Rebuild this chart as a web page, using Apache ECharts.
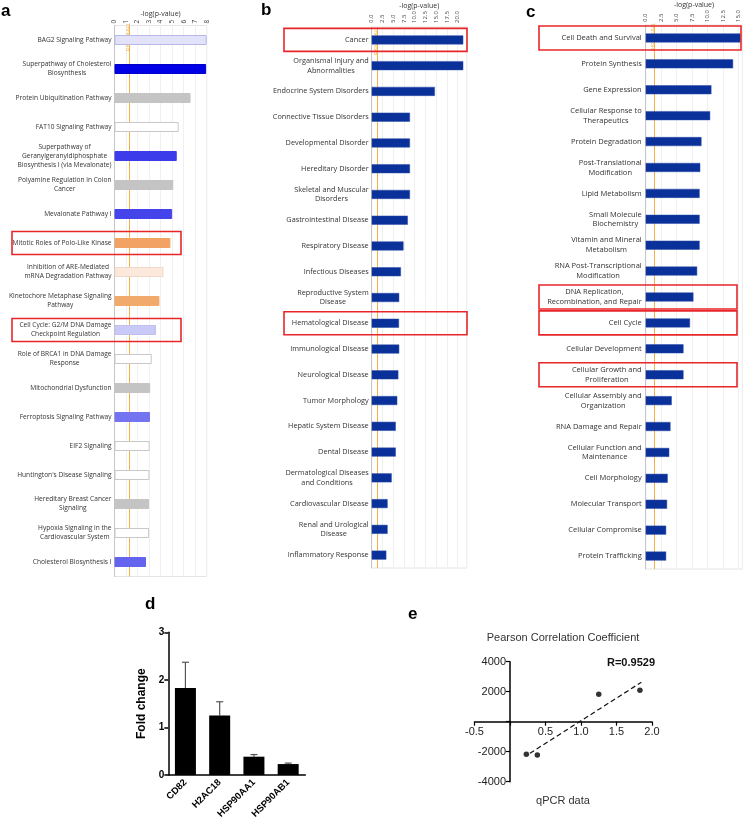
<!DOCTYPE html>
<html><head><meta charset="utf-8">
<script src="https://cdn.jsdelivr.net/npm/echarts@6/dist/echarts.min.js"></script>
<style>html,body{margin:0;padding:0;background:#fff}#c{width:746px;height:822px}</style>
</head><body><div id="c"></div>
<script>
// ---------- DATA ----------
const threshold = 1.3;

const aCats = ["BAG2 Signaling Pathway","Superpathway of Cholesterol\nBiosynthesis","Protein Ubiquitination Pathway","FAT10 Signaling Pathway","Superpathway of\nGeranylgeranyldiphosphate\nBiosynthesis I (via Mevalonate)","Polyamine Regulation in Colon\nCancer","Mevalonate Pathway I","Mitotic Roles of Polo-Like Kinase","Inhibition of ARE-Mediated\nmRNA Degradation Pathway","Kinetochore Metaphase Signaling\nPathway","Cell Cycle: G2/M DNA Damage\nCheckpoint Regulation","Role of BRCA1 in DNA Damage\nResponse","Mitochondrial Dysfunction","Ferroptosis Signaling Pathway","EIF2 Signaling","Huntington's Disease Signaling","Hereditary Breast Cancer\nSignaling","Hypoxia Signaling in the\nCardiovascular System","Cholesterol Biosynthesis I"];
const aVals = [8.0,7.95,6.6,5.57,5.4,5.1,5.0,4.85,4.24,3.9,3.6,3.23,3.1,3.08,3.05,3.03,3.0,3.0,2.73];
const aHighlight = [7,10];

const bCats = ["Cancer","Organismal Injury and\nAbnormalities","Endocrine System Disorders","Connective Tissue Disorders","Developmental Disorder","Hereditary Disorder","Skeletal and Muscular\nDisorders","Gastrointestinal Disease","Respiratory Disease","Infectious Diseases","Reproductive System\nDisease","Hematological Disease","Immunological Disease","Neurological Disease","Tumor Morphology","Hepatic System Disease","Dental Disease","Dermatological Diseases\nand Conditions","Cardiovascular Disease","Renal and Urological\nDisease","Inflammatory Response"];
const bVals = [21.3,21.3,14.7,8.9,8.9,8.9,8.9,8.4,7.4,6.8,6.4,6.35,6.4,6.2,5.95,5.6,5.6,4.65,3.7,3.7,3.4];
const bHighlight = [0,11];

const cCats = ["Cell Death and Survival","Protein Synthesis","Gene Expression","Cellular Response to\nTherapeutics","Protein Degradation","Post-Translational\nModification","Lipid Metabolism","Small Molecule\nBiochemistry","Vitamin and Mineral\nMetabolism","RNA Post-Transcriptional\nModification","DNA Replication,\nRecombination, and Repair","Cell Cycle","Cellular Development","Cellular Growth and\nProliferation","Cellular Assembly and\nOrganization","RNA Damage and Repair","Cellular Function and\nMaintenance","Cell Morphology","Molecular Transport","Cellular Compromise","Protein Trafficking"];
const cVals = [15.3,14.1,10.6,10.4,9.0,8.8,8.7,8.7,8.7,8.3,7.7,7.15,6.1,6.1,4.2,4.0,3.8,3.55,3.45,3.3,3.3];
const cHighlight = [0,10,11,13];

const dCats = ["CD82","H2AC18","HSP90AA1","HSP90AB1"];
const dVals = [1.83,1.25,0.385,0.23];
const dErr  = [0.54,0.29,0.045,0.02];

const ePoints = [[0.23,-2170],[0.385,-2220],[1.25,1830],[1.83,2090]];
const eFit = [[0.28,-2110],[1.85,2630]];
const eR = "R=0.9529";

// ---------- STYLES ----------
const aColors = ["#e2e2fa","#0000e6","#c4c4c4","#ffffff","#3c3cea","#c4c4c4","#4444ea","#f2a262","#fde9dc","#f2aa6c","#c9c9f8","#ffffff","#c4c4c4","#7474f0","#ffffff","#ffffff","#c4c4c4","#ffffff","#6464ee"];
const aBorder = ["#b8b8e8","#0000c8","#c4c4c4","#c8c8c8","#3c3cea","#c4c4c4","#4444ea","#f2a262","#f0d8c8","#f2aa6c","#c0c0f0","#c8c8c8","#c4c4c4","#7474f0","#c8c8c8","#c8c8c8","#c4c4c4","#c8c8c8","#6464ee"];
const ipaBlue = "#0a3199";
const orange = "#f5b04a";
const red = "#e8262a";
const ipaFont = "Open Sans";
const arial = "Liberation Sans";

const chart = echarts.init(document.getElementById('c'), null, {renderer:'canvas'});

function richLab(v){ return v.split('\n').map(s=>'{c|'+s+'}').join('\n'); }
function ipaY(gi, cats, fs, margin){
  return {gridIndex:gi, type:'category', inverse:true, data:cats,
    axisTick:{show:false}, axisLine:{show:true, lineStyle:{color:'#c6c6c6', width:1}},
    axisLabel:{margin:margin, formatter:richLab, interval:0,
      rich:{c:{align:'center', fontSize:fs, fontFamily:ipaFont, color:'#333', lineHeight:fs+2.3}}}};
}
function ipaX(gi, min, max, interval, fmt, margin, fs){
  return {gridIndex:gi, type:'value', position:'top', min:min, max:max, interval:interval,
    axisLine:{show:false}, axisTick:{show:false},
    axisLabel:{rotate:-90, margin:margin, fontSize:fs, fontFamily:ipaFont, color:'#444', formatter:fmt},
    splitLine:{show:true, lineStyle:{color:'#f0f0f0', width:1}}};
}
function thrSeries(xi){
  return {type:'scatter', xAxisIndex:xi, yAxisIndex:xi, data:[], z:1, silent:true,
    markLine:{silent:true, z:1, symbol:'none', lineStyle:{color:orange, width:1, type:'solid'},
      label:{show:false}, data:[{xAxis:threshold}]}};
}

const option = {
  animation:false,
  backgroundColor:'#fff',
  grid:[
    {left:114.5, top:25.5, width:92.2, height:551, containLabel:false, outerBoundsMode:'none', show:true, borderColor:'#e4e4e4', borderWidth:1},
    {left:371.7, top:27, width:95, height:541, containLabel:false, outerBoundsMode:'none', show:true, borderColor:'#e4e4e4', borderWidth:1},
    {left:645.7, top:25, width:96.7, height:544, containLabel:false, outerBoundsMode:'none', show:true, borderColor:'#e4e4e4', borderWidth:1},
    {left:168.3, top:632.3, width:137, height:142.7, containLabel:false, outerBoundsMode:'none'},
    {left:474.5, top:661.7, width:177.5, height:120, containLabel:false, outerBoundsMode:'none'}
  ],
  xAxis:[
    ipaX(0, 0, 8, 1, v=>String(v), 2, 6.5),
    ipaX(1, 0, 22.1, 2.5, v=> v>21 ? '' : v.toFixed(1), 4, 6),
    ipaX(2, 0, 15.6, 2.5, v=> v>15.1 ? '' : v.toFixed(1), 3, 6),
    {gridIndex:3, type:'category', data:dCats,
      axisLine:{lineStyle:{color:'#000', width:1.5}}, axisTick:{show:false},
      axisLabel:{rotate:45, interval:0, margin:6, fontSize:9.5, fontWeight:'bold', fontFamily:arial, color:'#000'}},
    {gridIndex:4, type:'value', min:-0.5, max:2, interval:0.5, position:'bottom', offset:-60,
      axisLine:{onZero:false, lineStyle:{color:'#000', width:1.5}},
      axisTick:{show:true, length:4, lineStyle:{color:'#000', width:1.2}},
      splitLine:{show:false},
      axisLabel:{margin:5, fontSize:11, fontFamily:arial, color:'#222', formatter:v=> v===0 ? '' : v.toFixed(1)}}
  ],
  yAxis:[
    ipaY(0, aCats, 6.6, 3),
    ipaY(1, bCats, 7.3, 3),
    ipaY(2, cCats, 7.5, 4),
    {gridIndex:3, type:'value', min:0, max:3, interval:1,
      name:'Fold change', nameLocation:'middle', nameGap:21, nameMoveOverlap:false,
      nameTextStyle:{fontSize:12, fontWeight:'bold', fontFamily:arial, color:'#000'},
      axisLine:{show:true, lineStyle:{color:'#000', width:1.5}},
      axisTick:{show:true, length:4, lineStyle:{color:'#000', width:1.5}},
      splitLine:{show:false},
      axisLabel:{margin:4, fontSize:10, fontWeight:'bold', fontFamily:arial, color:'#000'}},
    {gridIndex:4, type:'value', min:-4000, max:4000, interval:2000, position:'left', offset:-35.5,
      axisLine:{show:true, onZero:false, lineStyle:{color:'#000', width:1.5}},
      axisTick:{show:true, length:4, lineStyle:{color:'#000', width:1.2}},
      splitLine:{show:false},
      axisLabel:{margin:4, fontSize:11, fontFamily:arial, color:'#222', formatter:v=> v===0 ? '' : String(v)}}
  ],
  series:[
    thrSeries(0), thrSeries(1), thrSeries(2),
    {type:'bar', xAxisIndex:0, yAxisIndex:0, barWidth:10, z:3,
      data:aVals.map((v,i)=>({value:v, itemStyle:{color:aColors[i], borderColor:aBorder[i], borderWidth:1}}))},
    {type:'bar', xAxisIndex:1, yAxisIndex:1, barWidth:9, data:bVals, z:3,
      itemStyle:{color:ipaBlue, borderColor:'#2a4aa8', borderWidth:0.5}},
    {type:'bar', xAxisIndex:2, yAxisIndex:2, barWidth:9, data:cVals, z:3,
      itemStyle:{color:ipaBlue, borderColor:'#2a4aa8', borderWidth:0.5}},
    {type:'bar', xAxisIndex:3, yAxisIndex:3, barWidth:21, data:dVals, itemStyle:{color:'#000'}},
    {type:'custom', xAxisIndex:3, yAxisIndex:3, z:1,
      data:dCats.map((c,i)=>[i, dVals[i], dErr[i]]),
      encode:{x:0, y:1},
      renderItem:function(params, api){
        const x=api.value(0), v=api.value(1), e=api.value(2);
        const p0=api.coord([x,v]), p1=api.coord([x,v+e]);
        const w=7;
        return {type:'group', children:[
          {type:'line', shape:{x1:p0[0],y1:p0[1],x2:p1[0],y2:p1[1]}, style:{stroke:'#555', lineWidth:1.2}},
          {type:'line', shape:{x1:p1[0]-w/2,y1:p1[1],x2:p1[0]+w/2,y2:p1[1]}, style:{stroke:'#555', lineWidth:1.2}}
        ]};
      }},
    {type:'line', xAxisIndex:4, yAxisIndex:4, data:eFit, symbol:'none',
      lineStyle:{color:'#111', width:1.2, type:[5,3]}},
    {type:'scatter', xAxisIndex:4, yAxisIndex:4, data:ePoints, symbolSize:5.5, itemStyle:{color:'#000'}}
  ]
};
chart.setOption(option);

// ---------- annotations ----------
const g = [];
function letter(t,x,y,fs){ g.push({type:'text', left:x, top:y, style:{text:t, fontSize:fs, fontWeight:'bold', fontFamily:arial, fill:'#000'}}); }
letter('a',1,3,17); letter('b',261,2,17); letter('c',526,4,17); letter('d',145,596,17); letter('e',408,606,17);

function axName(gi, y){
  const gr = option.grid[gi];
  g.push({type:'text', x:gr.left + gr.width/2, y:y, style:{text:'-log(p-value)', fontSize:7, fontFamily:ipaFont, fill:'#333', textAlign:'center', textVerticalAlign:'middle'}});
}
axName(0, 14); axName(1, 6); axName(2, 5);

function thrText(gi, y){
  const x = chart.convertToPixel({xAxisIndex:gi}, threshold);
  g.push({type:'text', x:x+1.5, y:y, rotation:-Math.PI/2, z:0,
    style:{text:'Threshold', fontSize:6, fontFamily:ipaFont, fill:orange, textAlign:'left', textVerticalAlign:'top'}});
}
thrText(0, 23); thrText(1, 27); thrText(2, 23);

function boxes(gi, cats, idxs, x1, x2s, h){
  idxs.forEach((k,j)=>{
    const y = chart.convertToPixel({yAxisIndex:gi}, cats[k]);
    const x2 = Array.isArray(x2s) ? x2s[j] : x2s;
    g.push({type:'rect', shape:{x:x1, y:y-h/2, width:x2-x1, height:h}, style:{fill:'none', stroke:red, lineWidth:1.6}, z:100});
  });
}
boxes(0, aCats, aHighlight, 12, 181, 23);
boxes(1, bCats, bHighlight, 284, 467, 23);
boxes(2, cCats, cHighlight, 539, [741,737,737,737], 24);

g.push({type:'text', x:563, y:638, style:{text:'Pearson Correlation Coefficient', fontSize:11, fontFamily:arial, fill:'#333', textAlign:'center', textVerticalAlign:'middle'}});
g.push({type:'text', x:655, y:663, style:{text:eR, fontSize:11, fontWeight:'bold', fontFamily:arial, fill:'#111', textAlign:'right', textVerticalAlign:'middle'}});
g.push({type:'text', x:563, y:801, style:{text:'qPCR data', fontSize:11, fontFamily:arial, fill:'#333', textAlign:'center', textVerticalAlign:'middle'}});

chart.setOption({graphic:g});
</script></body></html>
